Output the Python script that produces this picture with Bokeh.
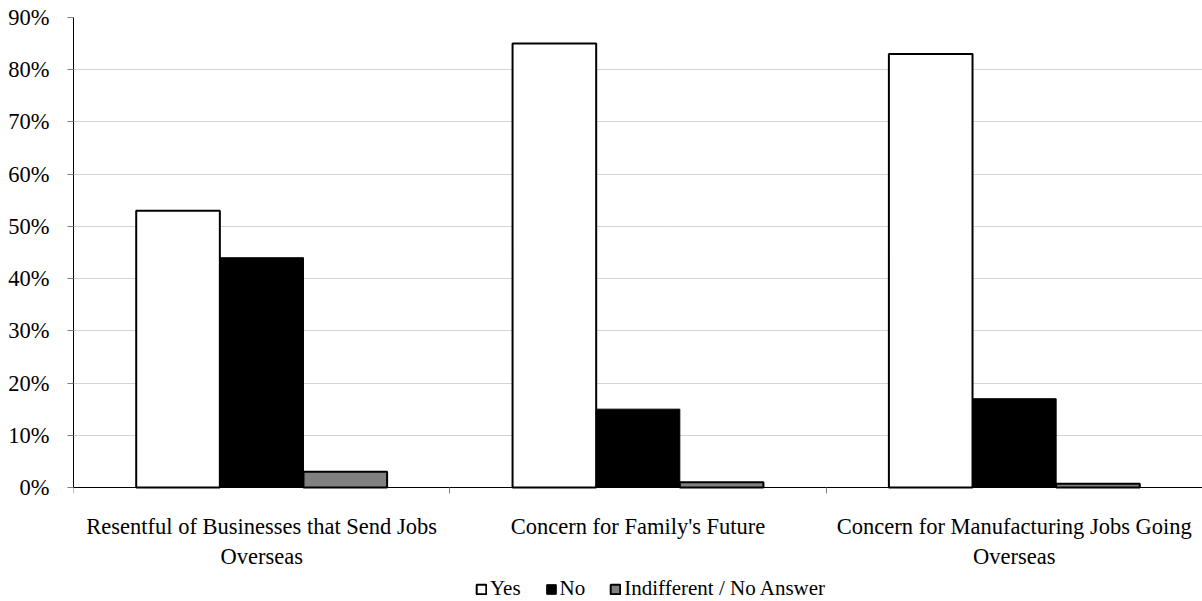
from bokeh.plotting import figure
from bokeh.models import (Range1d, FixedTicker, PrintfTickFormatter, CustomJSTickFormatter,
                          Legend, LegendItem, ColumnDataSource)
from bokeh.transform import dodge
from bokeh.embed import file_html
from bokeh.resources import INLINE

categories = ["Resentful of Businesses that Send Jobs\nOverseas",
              "Concern for Family's Future",
              "Concern for Manufacturing Jobs Going\nOverseas"]
yes = [53, 85, 83]
no = [44, 15, 17]
indifferent = [3, 1, 0.7]
series_names = ["Yes", "No", "Indifferent / No Answer"]
y_ticks = [0, 10, 20, 30, 40, 50, 60, 70, 80, 90]

FONT = "Liberation Serif"
FS = "22.5px"
LEG_FS = "21px"
bar_w = 1 / 4.5

# layout: value axis occupies 470 px for 0..90, the area below holds labels + legend
PLOT_H = 470
BELOW_H = 114
y_top = 90
y_bottom = -BELOW_H * y_top / PLOT_H

src = ColumnDataSource(dict(x=[i + 0.5 for i in range(len(categories))],
                            yes=yes, no=no, ind=indifferent))

p = figure(frame_width=1129, frame_height=PLOT_H + BELOW_H, output_backend="svg",
           toolbar_location=None,
           x_range=Range1d(0, len(categories)), y_range=Range1d(y_bottom, y_top),
           min_border_left=73, min_border_right=0, min_border_top=17, min_border_bottom=0)
p.outline_line_color = None
p.background_fill_color = "white"
p.border_fill_color = "white"

r_yes = p.vbar(x=dodge("x", -bar_w, range=p.x_range), top="yes", width=bar_w, source=src,
               fill_color="white", line_color="black", line_width=2)
r_no = p.vbar(x="x", top="no", width=bar_w, source=src,
              fill_color="black", line_color="black", line_width=1)
r_ind = p.vbar(x=dodge("x", bar_w, range=p.x_range), top="ind", width=bar_w, source=src,
               fill_color="#808080", line_color="black", line_width=2)

# y axis
p.yaxis.ticker = FixedTicker(ticks=y_ticks)
p.yaxis.bounds = (0, y_top)
p.yaxis.formatter = PrintfTickFormatter(format="%d%%")
p.yaxis.major_label_text_font = FONT
p.yaxis.major_label_text_font_size = FS
p.yaxis.major_label_text_color = "black"
p.yaxis.axis_line_color = "black"
p.yaxis.major_tick_line_color = "#808080"
p.yaxis.major_tick_out = 6
p.yaxis.major_tick_in = 0
p.yaxis.minor_tick_line_color = None
p.yaxis.major_label_standoff = 18

# x axis (drawn at value 0)
p.xaxis.fixed_location = 0
p.xaxis.ticker = FixedTicker(ticks=[i + 0.5 for i in range(len(categories))],
                             minor_ticks=list(range(len(categories) + 1)))
p.xaxis.formatter = CustomJSTickFormatter(args=dict(cats=categories),
                                          code="return cats[Math.floor(tick)];")
p.xaxis.major_label_text_font = FONT
p.xaxis.major_label_text_font_size = FS
p.xaxis.major_label_text_color = "black"
p.xaxis.axis_line_color = "black"
p.xaxis.major_tick_line_color = None
p.xaxis.major_tick_out = 4
p.xaxis.minor_tick_line_color = "#808080"
p.xaxis.minor_tick_out = 6
p.xaxis.minor_tick_in = 0
p.xaxis.major_label_standoff = 20

p.xgrid.grid_line_color = None
p.ygrid.ticker = FixedTicker(ticks=y_ticks)
p.ygrid.grid_line_color = "#a8a8a8"
p.ygrid.grid_line_dash = "1 1"

legend = Legend(items=[LegendItem(label=series_names[0], renderers=[r_yes]),
                       LegendItem(label=series_names[1], renderers=[r_no]),
                       LegendItem(label=series_names[2], renderers=[r_ind])],
                orientation="horizontal", location=(402, 0),
                glyph_width=12, glyph_height=12, label_standoff=3, spacing=24,
                label_text_font=FONT, label_text_font_size=LEG_FS, label_text_color="black",
                padding=0, margin=0, border_line_color=None, background_fill_alpha=0)
p.add_layout(legend, "center")

open("out.html", "w").write(file_html(p, INLINE))
